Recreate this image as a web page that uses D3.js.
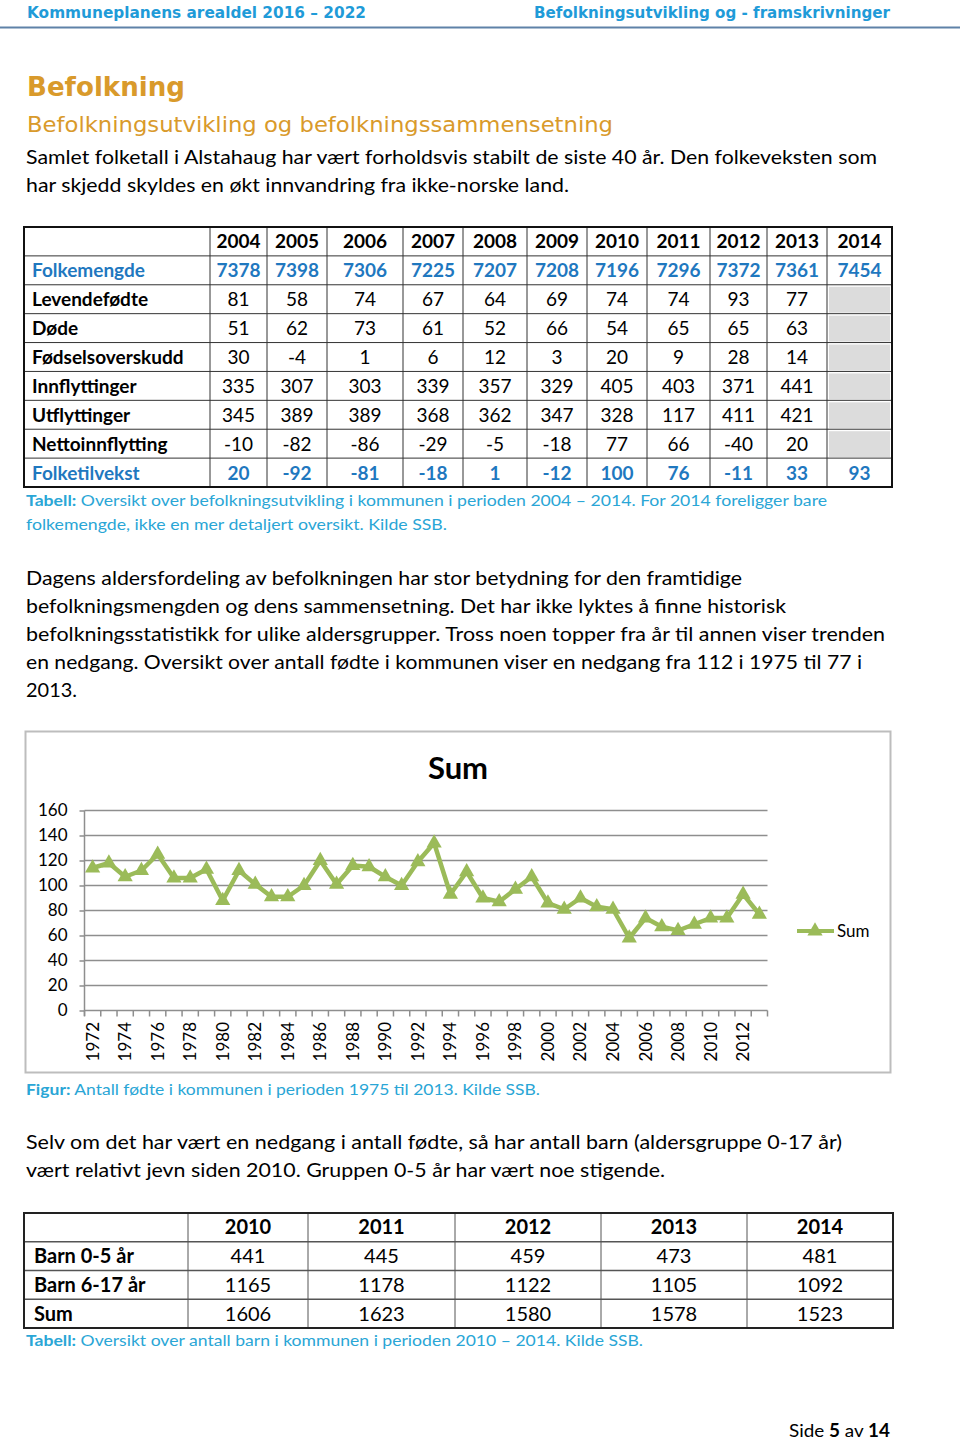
<!DOCTYPE html>
<html><head><meta charset="utf-8">
<script src="https://cdn.jsdelivr.net/npm/d3@7"></script>
<style>body{margin:0;background:#fff}svg{display:block}</style>
</head><body>
<script>
// ---------- DATA ----------
const tableYears = [2004,2005,2006,2007,2008,2009,2010,2011,2012,2013,2014];
const rowLabels = ["Folkemengde","Levendefødte","Døde","Fødselsoverskudd","Innflyttinger","Utflyttinger","Nettoinnflytting","Folketilvekst"];
const folkemengde      = [7378,7398,7306,7225,7207,7208,7196,7296,7372,7361,7454];
const levendefodte     = [81,58,74,67,64,69,74,74,93,77,null];
const dode             = [51,62,73,61,52,66,54,65,65,63,null];
const fodselsoverskudd = [30,-4,1,6,12,3,20,9,28,14,null];
const innflyttinger    = [335,307,303,339,357,329,405,403,371,441,null];
const utflyttinger     = [345,389,389,368,362,347,328,117,411,421,null];
const nettoinnflytting = [-10,-82,-86,-29,-5,-18,77,66,-40,20,null];
const folketilvekst    = [20,-92,-81,-18,1,-12,100,76,-11,33,93];

const birthYears = d3.range(1972, 2014);
const births = [114,118,107,112,125,106,106,113,88,112,101,91,91,100,120,101,116,115,107,100,119,134,93,111,90,87,97,107,86,81,90,83,81,58,74,67,64,69,74,74,93,77];
const yTicks = [0,20,40,60,80,100,120,140,160];
const seriesName = "Sum";

const barnYears = [2010,2011,2012,2013,2014];
const barnLabels = ["Barn 0-5 år","Barn 6-17 år","Sum"];
const barn05  = [441,445,459,473,481];
const barn617 = [1165,1178,1122,1105,1092];
const barnSum = [1606,1623,1580,1578,1523];

// ---------- STYLE ----------
const BLUE_HDR = "#1f9bd8", BLUE_TBL = "#1f78bf", CAP = "#2aa6d6", ORANGE = "#d99a2b", GREEN = "#9bbb59";
const CAL = "Lato, 'Open Sans', sans-serif";
const VER = "'DejaVu Sans', Verdana, sans-serif";

const svg = d3.select("body").append("svg").attr("width",960).attr("height",1443);

function txt(x, y, parts, opt) {
  const t = svg.append("text").attr("x", x).attr("y", y)
    .attr("font-family", opt.font || CAL).attr("font-size", opt.size)
    .attr("fill", opt.fill || "#000").attr("font-weight", opt.weight || "normal")
    .attr("text-anchor", opt.anchor || "start");
  if (typeof parts === "string") parts = [[parts, opt.weight || "normal"]];
  parts.forEach(p => t.append("tspan").attr("font-weight", p[1]).text(p[0]));
  if (opt.len) t.attr("textLength", opt.len).attr("lengthAdjust", "spacingAndGlyphs");
  return t;
}

// ---------- HEADER ----------
txt(27, 18, "Kommuneplanens arealdel 2016 – 2022", {font:VER, size:15, weight:"bold", fill:BLUE_HDR, len:339});
txt(534, 18, "Befolkningsutvikling og - framskrivninger", {font:VER, size:15, weight:"bold", fill:BLUE_HDR, len:356});
svg.append("line").attr("x1",0).attr("x2",960).attr("y1",27.5).attr("y2",27.5).attr("stroke","#5f82a8").attr("stroke-width",2);

txt(27, 96, "Befolkning", {font:VER, size:26, weight:"bold", fill:ORANGE, len:158});
txt(27, 132, "Befolkningsutvikling og befolkningssammensetning", {font:VER, size:22, fill:ORANGE, len:586});

txt(26, 164, "Samlet folketall i Alstahaug har vært forholdsvis stabilt de siste 40 år. Den folkeveksten som", {size:20, len:851});
txt(26, 192, "har skjedd skyldes en økt innvandring fra ikke-norske land.", {size:20, len:543});

// ---------- TABLE 1 ----------
const t1Cols = [24,210,267,327,403,463,527,587,647,710,767,827,892];
const t1Top = 227, t1Bot = 487;
const t1Rows = [folkemengde, levendefodte, dode, fodselsoverskudd, innflyttinger, utflyttinger, nettoinnflytting, folketilvekst];
const t1y = d3.scaleBand().domain(d3.range(9)).range([t1Top, t1Bot]);
const g1 = svg.append("g");
t1Rows.forEach((r, i) => r.forEach((v, j) => {
  if (v === null) g1.append("rect").attr("x", t1Cols[j+1]+2).attr("y", t1y(i+1)+2)
    .attr("width", t1Cols[j+2]-t1Cols[j+1]-4).attr("height", t1y.bandwidth()-3).attr("fill","#dcdcdc");
}));
d3.range(1,9).forEach(i => g1.append("line").attr("x1",t1Cols[0]).attr("x2",t1Cols[12]).attr("y1",t1y(i)).attr("y2",t1y(i)).attr("stroke","#333").attr("stroke-width",1));
t1Cols.slice(1,12).forEach(x => g1.append("line").attr("x1",x).attr("x2",x).attr("y1",t1Top).attr("y2",t1Bot).attr("stroke","#333").attr("stroke-width",1));
g1.append("rect").attr("x",t1Cols[0]).attr("y",t1Top).attr("width",t1Cols[12]-t1Cols[0]).attr("height",t1Bot-t1Top).attr("fill","none").attr("stroke","#111").attr("stroke-width",2);
tableYears.forEach((yr, j) => txt((t1Cols[j+1]+t1Cols[j+2])/2, t1y(0)+t1y.bandwidth()/2+7, String(yr), {size:19, weight:"bold", anchor:"middle"}));
rowLabels.forEach((lab, i) => {
  const blue = (i === 0 || i === 7);
  const cy = t1y(i+1)+t1y.bandwidth()/2+7;
  txt(32, cy, lab, {size:19, weight:"bold", fill: blue ? BLUE_TBL : "#000"});
  t1Rows[i].forEach((v, j) => {
    if (v !== null) txt((t1Cols[j+1]+t1Cols[j+2])/2, cy, String(v), {size:19, weight: blue ? "bold" : "normal", fill: blue ? BLUE_TBL : "#000", anchor:"middle"});
  });
});
txt(26, 506, [["Tabell:","bold"],[" Oversikt over befolkningsutvikling i kommunen i perioden 2004 – 2014. For 2014 foreligger bare","normal"]], {size:16, fill:CAP, len:801});
txt(26, 530, "folkemengde, ikke en mer detaljert oversikt. Kilde SSB.", {size:16, fill:CAP, len:421});

// ---------- PARAGRAPH 2 ----------
const p2 = [
  ["Dagens aldersfordeling av befolkningen har stor betydning for den framtidige", 716],
  ["befolkningsmengden og dens sammensetning. Det har ikke lyktes å finne historisk", 760],
  ["befolkningsstatistikk for ulike aldersgrupper. Tross noen topper fra år til annen viser trenden", 859],
  ["en nedgang. Oversikt over antall fødte i kommunen viser en nedgang fra 112 i 1975 til 77 i", 836],
  ["2013.", 51]
];
p2.forEach((l, i) => txt(26, 585 + i*28, l[0], {size:20, len:l[1]}));

// ---------- CHART ----------
svg.append("rect").attr("x",25.5).attr("y",731.5).attr("width",865).attr("height",341).attr("fill","#fff").attr("stroke","#bdbdbd").attr("stroke-width",2);
txt(458, 779, "Sum", {size:31, weight:"bold", anchor:"middle"});

const x = d3.scaleBand().domain(birthYears).range([84.5, 767.5]);
const y = d3.scaleLinear().domain([0,160]).range([1010.5, 810.5]);
const GRID = "#8e8e8e";
const gc = svg.append("g");
gc.selectAll("line.grid").data(yTicks.filter(d => d > 0)).join("line")
  .attr("x1", 84.5).attr("x2", 767.5).attr("y1", d => y(d)).attr("y2", d => y(d))
  .attr("stroke", GRID).attr("stroke-width", 1.5);
const yAxis = gc.append("g").attr("transform","translate(84.5,0)")
  .call(d3.axisLeft(y).tickValues(yTicks).tickSize(5).tickPadding(12));
yAxis.select(".domain").attr("stroke", GRID).attr("stroke-width",1.5).attr("d","M0,810.5V1016");
yAxis.selectAll(".tick line").attr("stroke", GRID).attr("stroke-width",1.5);
yAxis.selectAll(".tick text").attr("font-family", CAL).attr("font-size", 17).attr("fill","#000");
gc.append("line").attr("x1",84.5).attr("x2",767.5).attr("y1",y(0)).attr("y2",y(0)).attr("stroke",GRID).attr("stroke-width",1.5);
const bounds = birthYears.map(d => x(d)).concat([x(2013)+x.bandwidth()]);
gc.selectAll("line.xt").data(bounds).join("line")
  .attr("x1", d => d).attr("x2", d => d).attr("y1", y(0)).attr("y2", y(0)+6)
  .attr("stroke", GRID).attr("stroke-width", 1.5);
gc.selectAll("text.xl").data(birthYears.filter(d => d % 2 === 0)).join("text")
  .attr("transform", d => `translate(${x(d)+x.bandwidth()/2+6},1022) rotate(-90)`)
  .attr("text-anchor","end").attr("font-family",CAL).attr("font-size",17).text(d => d);
const pts = birthYears.map((d, i) => [x(d)+x.bandwidth()/2, y(births[i])]);
gc.append("path").attr("d", d3.line()(pts)).attr("fill","none").attr("stroke",GREEN).attr("stroke-width",4.5).attr("stroke-linejoin","round");
const tri = d3.symbol().type(d3.symbolTriangle).size(100);
gc.selectAll("path.m").data(pts).join("path")
  .attr("transform", d => `translate(${d[0]},${d[1]})`).attr("d", tri).attr("fill", GREEN);
gc.append("line").attr("x1",797).attr("x2",834).attr("y1",931).attr("y2",931).attr("stroke",GREEN).attr("stroke-width",4);
gc.append("path").attr("transform","translate(815,931)").attr("d", tri).attr("fill",GREEN);
txt(837, 937, seriesName, {size:17});

txt(26, 1095, [["Figur:","bold"],[" Antall fødte i kommunen i perioden 1975 til 2013. Kilde SSB.","normal"]], {size:16, fill:CAP, len:514});

// ---------- PARAGRAPH 3 ----------
txt(26, 1149, "Selv om det har vært en nedgang i antall fødte, så har antall barn (aldersgruppe 0-17 år)", {size:20, len:816});
txt(26, 1177, "vært relativt jevn siden 2010.  Gruppen 0-5 år har vært noe stigende.", {size:20, len:639});

// ---------- TABLE 2 ----------
const t2Cols = [24,188,308,455,601,747,893];
const t2Rows = [barn05, barn617, barnSum];
const t2Top = 1213, t2Bot = 1328;
const t2y = d3.scaleBand().domain(d3.range(4)).range([t2Top, t2Bot]);
const g2 = svg.append("g");
d3.range(1,4).forEach(i => g2.append("line").attr("x1",t2Cols[0]).attr("x2",t2Cols[6]).attr("y1",t2y(i)).attr("y2",t2y(i)).attr("stroke","#555").attr("stroke-width",1.5));
t2Cols.slice(1,6).forEach(xx => g2.append("line").attr("x1",xx).attr("x2",xx).attr("y1",t2Top).attr("y2",t2Bot).attr("stroke","#555").attr("stroke-width",1));
g2.append("rect").attr("x",t2Cols[0]).attr("y",t2Top).attr("width",t2Cols[6]-t2Cols[0]).attr("height",t2Bot-t2Top).attr("fill","none").attr("stroke","#222").attr("stroke-width",2);
barnYears.forEach((yr, j) => txt((t2Cols[j+1]+t2Cols[j+2])/2, t2y(0)+t2y.bandwidth()/2+7, String(yr), {size:20, weight:"bold", anchor:"middle"}));
barnLabels.forEach((lab, i) => {
  const cy = t2y(i+1)+t2y.bandwidth()/2+7;
  txt(34, cy, lab, {size:20, weight:"bold"});
  t2Rows[i].forEach((v, j) => txt((t2Cols[j+1]+t2Cols[j+2])/2, cy, String(v), {size:20, anchor:"middle"}));
});
txt(26, 1346, [["Tabell:","bold"],[" Oversikt over antall barn i kommunen i perioden 2010 – 2014. Kilde SSB.","normal"]], {size:16, fill:CAP, len:617});

// ---------- FOOTER ----------
txt(789, 1437, [["Side ","normal"],["5","bold"],[" av ","normal"],["14","bold"]], {size:18, len:101});
</script>
</body></html>
